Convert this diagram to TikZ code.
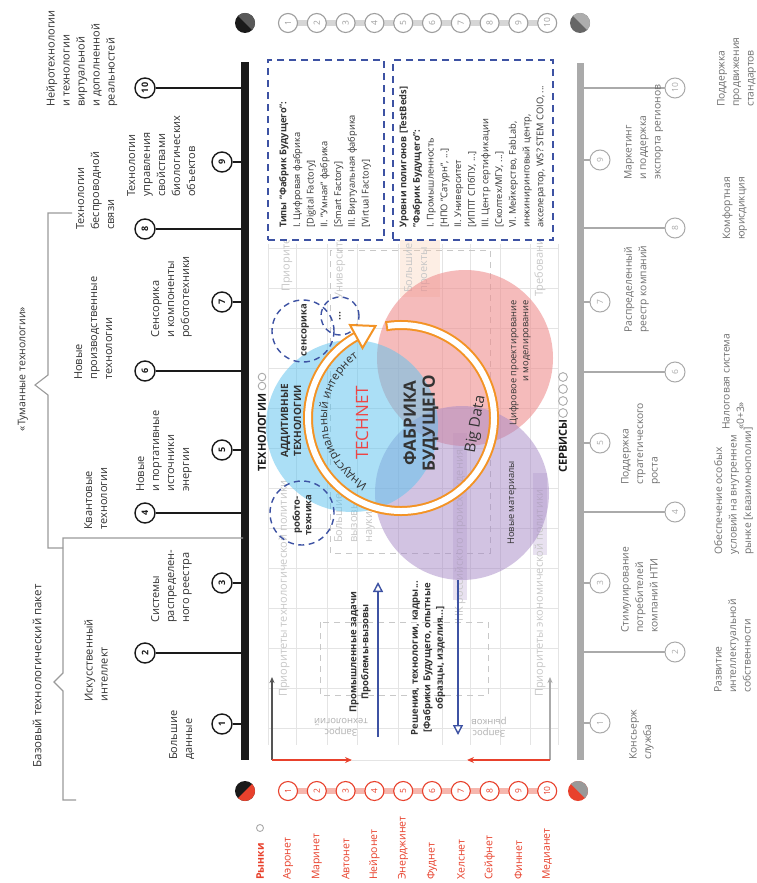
\documentclass[tikz,border=0pt]{standalone}
\usepackage{fontspec}
\setmainfont{Open Sans}
\usetikzlibrary{arrows.meta,calc,decorations.text}
\definecolor{techblk}{HTML}{1A1A1A}
\definecolor{servgray}{HTML}{AAAAAA}
\definecolor{lblgray}{HTML}{333333}
\definecolor{slblgray}{HTML}{707070}
\definecolor{mred}{HTML}{E8412C}
\definecolor{botbandc}{HTML}{F6B7AE}
\definecolor{topgray}{HTML}{9E9E9E}
\definecolor{topbandc}{HTML}{D6D6D6}
\definecolor{dblue}{HTML}{3D52A3}
\definecolor{fade}{HTML}{C8C8C8}
\definecolor{zapgray}{HTML}{B0B0B0}
\definecolor{gridc}{HTML}{E4E4E4}
\definecolor{cyanc}{HTML}{5EC3EE}
\definecolor{pinkc}{HTML}{EF8E8E}
\definecolor{purpc}{HTML}{A688C6}
\definecolor{ringc}{HTML}{F39325}
\definecolor{techred}{HTML}{EE4545}
\definecolor{brgray}{HTML}{9A9A9A}
\definecolor{peach}{HTML}{F9C9A6}
\definecolor{arrgray}{HTML}{555555}
\begin{document}
\begin{tikzpicture}[x=1pt,y=-1pt,
  techc/.style={circle,draw=techblk,line width=1.4pt,fill=white,minimum size=20pt,inner sep=0pt,font=\bfseries\fontsize{9}{9}\selectfont,text=techblk,rotate=90},
  servc/.style={circle,draw=servgray,line width=1pt,fill=white,minimum size=20pt,inner sep=0pt,font=\fontsize{8.5}{8.5}\selectfont,text=servgray,rotate=90},
  topc/.style={circle,draw=topgray,line width=1.1pt,fill=white,minimum size=19pt,inner sep=0pt,font=\fontsize{8.5}{8.5}\selectfont,text=topgray,rotate=90},
  botc/.style={circle,draw=mred,line width=1.1pt,fill=white,minimum size=19pt,inner sep=0pt,font=\fontsize{8.5}{8.5}\selectfont,text=mred,rotate=90},
  techlbl/.style={rotate=90,anchor=north west,align=left,inner sep=0pt,font=\fontsize{11}{15}\selectfont,text=lblgray},
  servlbl/.style={rotate=90,anchor=north west,align=left,inner sep=0pt,font=\fontsize{10.3}{14.5}\selectfont,text=slblgray},
  boxtxt/.style={rotate=90,anchor=north west,align=left,inner sep=0pt,font=\fontsize{9.3}{13.7}\selectfont,text=lblgray},
  fadetxt/.style={rotate=90,anchor=west,inner sep=0pt,font=\fontsize{11}{13}\selectfont,text=fade},
  fademl/.style={rotate=90,anchor=north west,align=left,inner sep=0pt,font=\fontsize{11}{15}\selectfont,text=fade},
  zapros/.style={rotate=180,align=center,inner sep=0pt,font=\fontsize{9.5}{11}\selectfont,text=zapgray},
  mktlbl/.style={rotate=90,anchor=west,inner sep=0pt,font=\fontsize{10.5}{12}\selectfont,text=mred},
  brk/.style={draw=brgray,line width=1.1pt},
  dbox/.style={rectangle,draw=dblue,fill=white,line width=1.4pt,dash pattern=on 7pt off 5pt,inner sep=0pt},
  dcirc/.style={circle,draw=dblue,line width=1.4pt,dash pattern=on 6pt off 4.5pt,inner sep=0pt},
  fadedash/.style={draw=fade,line width=0.9pt,dash pattern=on 6pt off 5pt},
  gridln/.style={draw=gridc,line width=0.7pt},
  vtxt/.style={rotate=90,inner sep=0pt}
]
\useasboundingbox (0,0) rectangle (757,883);
\fill[white] (0,0) rectangle (757,883);

% ---------- background grid ----------
\foreach \yy in {248,288,...,728} \draw[gridln] (268,\yy) -- (558,\yy);
\foreach \xx in {268,296,327,357,398,442,470,500,530,558} \draw[gridln] (\xx,244) -- (\xx,745);
\draw[fadedash] (330,250) rectangle (490,553);
\draw[fadedash] (320,622) rectangle (488,695);

\fill[purpc,opacity=0.25] (453,433) rectangle (467,600);
\fill[purpc,opacity=0.25] (533,473) rectangle (547,555);
\fill[peach,opacity=0.3] (400,237) rectangle (440,297);

\node[fadetxt] (f1) at (284,697) {Приоритеты технологической политики};
\node[fadetxt] (f2) at (540,697) {Приоритеты экономической политики};
\node[fadetxt] (f3) at (287,292) {Приоритеты};
\node[fadetxt] (f4) at (340,300) {Университет};
\node[fadetxt] (f5) at (540,297) {Требования};
\node[fadetxt] (f6) at (460,622) {НК российского происхождения};
\node[fademl] (f7) at (334,543) {Большие\\вызовы\\науки};
\node[fademl] (f8) at (404,293) {Большие\\проекты};
\node[zapros] (z1) at (341,727) {Запрос\\технологий};
\node[zapros] (z2) at (489,727) {Запрос\\рынков};

% ---------- Venn circles ----------
\fill[pinkc,opacity=0.6] (465,358) circle[radius=88pt];
\fill[purpc,opacity=0.5] (462,493) circle[radius=87pt];
\fill[cyanc,opacity=0.52] (352,426) circle[radius=86pt];

\node[dcirc,minimum size=64pt] (robo) at (302,513) {};
\node[dcirc,minimum size=62pt] (sens) at (303,331) {};
\node[dcirc,minimum size=38pt] (dots) at (340,316) {};

% ---------- dashed boxes ----------
\node[dbox,minimum width=116pt,minimum height=180pt] (box1) at (326,150) {};
\node[dbox,minimum width=160pt,minimum height=180pt] (box2) at (473,150) {};
\node[boxtxt] (box1txt) at (279,228) {\textbf{Типы "Фабрик Будущего":}\\I. Цифровая фабрика\\{[}Digital Factory{]}\\II. "Умная" фабрика\\{[}Smart Factory{]}\\III. Виртуальная фабрика\\{[}Virtual Factory{]}};
\node[boxtxt] (box2txt) at (399,228) {\textbf{Уровни полигонов [TestBeds]}\\\textbf{"Фабрик Будущего":}\\I. Промышленность\\{[}НПО "Сатурн", ...{]}\\II. Университет\\{[}ИППТ СПбПУ, ...{]}\\III. Центр сертификации\\{[}Сколтех/МГУ, ...{]}\\VI. Мейкерство, FabLab,\\инжиниринговый центр,\\акселератор, WS? STEM COIO, ...};

% ---------- bars ----------
\node[fill=techblk,minimum width=8pt,minimum height=698pt,inner sep=0pt] (tbar) at (245,411) {};
\node[fill=servgray,minimum width=7pt,minimum height=697pt,inner sep=0pt] (sbar) at (580,411.5) {};

\foreach \i/\xx/\yy in {1/222/724,2/145/653,3/222/583,4/145/513,5/222/450,6/145/371,7/222/302,8/145/229,9/222/162,10/145/88} {
  \node[techc] (t\i) at (\xx,\yy) {\i};
  \draw[techblk,line width=1.3pt] (t\i) -- (t\i -| tbar);
}
\foreach \i/\xx/\yy in {1/600/723,2/675/652,3/600/583,4/675/512,5/600/443,6/675/372,7/600/302,8/675/228,9/600/160,10/675/88} {
  \node[servc] (s\i) at (\xx,\yy) {\i};
  \draw[servgray,line width=1.2pt] (s\i) -- (s\i -| sbar);
}

% ---------- technology labels ----------
\node[techlbl] (tl10) at (46,107) {Нейротехнологии\\и технологии\\виртуальной\\и дополненной\\реальностей};
\node[techlbl] (tl9) at (127,197) {Технологии\\управления\\свойствами\\биологических\\объектов};
\node[techlbl] (tl8) at (76,230) {Технологии\\беспроводной\\связи};
\node[techlbl] (tl7) at (151,338) {Сенсорика\\и компоненты\\робототехники};
\node[techlbl] (tl6) at (74,380) {Новые\\производственные\\технологии};
\node[techlbl] (tl5) at (136,492) {Новые\\и портативные\\источники\\энергии};
\node[techlbl] (tl4) at (84,530) {Квантовые\\технологии};
\node[techlbl] (tl3) at (151,623) {Системы\\распределен-\\ного реестра};
\node[techlbl] (tl2) at (84,702) {Искусственный\\интеллект};
\node[techlbl] (tl1) at (169,760) {Большие\\данные};

% ---------- service labels ----------
\node[servlbl] (sl10) at (717,107) {Поддержка\\продвижения\\стандартов};
\node[servlbl] (sl9) at (624,180) {Маркетинг\\и поддержка\\экспорта регионов};
\node[servlbl] (sl8) at (722,240) {Комфортная\\юрисдикция};
\node[servlbl] (sl7) at (624,333) {Распределенный\\реестр компаний};
\node[servlbl] (sl6) at (722,430) {Налоговая система\\«0+3»};
\node[servlbl] (sl5) at (621,485) {Поддержка\\стратегического\\роста};
\node[servlbl] (sl4) at (714,555) {Обеспечение особых\\условий на внутреннем\\рынке [квазимонополии]};
\node[servlbl] (sl3) at (621,633) {Стимулирование\\потребителей\\компаний НТИ};
\node[servlbl] (sl2) at (714,693) {Развитие\\интеллектуальной\\собственности};
\node[servlbl] (sl1) at (629,760) {Консьерж\\служба};

% ---------- brackets ----------
\draw[brk] (72,213) -- (48,213) -- (48,375) -- (35,385) -- (48,395) -- (48,548) -- (63,548);
\draw[brk] (243,538) -- (63,538) -- (63,673) -- (54,682) -- (63,691) -- (63,800) -- (76,800);
\node[vtxt,font=\fontsize{10.5}{12}\selectfont,text=lblgray] (tum) at (23,369) {«Туманные технологии»};
\node[vtxt,font=\fontsize{11.5}{12}\selectfont,text=lblgray] (baz) at (37,676) {Базовый технологический пакет};

% ---------- top and bottom rows ----------
\draw[line width=6pt,topbandc] (288,23) -- (547.2,23);
\draw[line width=6pt,botbandc] (288,791) -- (547.2,791);
\foreach \i in {1,...,10} {
  \node[topc] (tp\i) at ({288+(\i-1)*28.8},23) {\i};
  \node[botc] (bt\i) at ({288+(\i-1)*28.8},791) {\i};
}
\foreach \i/\nm in {1/Аэронет,2/Маринет,3/Автонет,4/Нейронет,5/Энерджинет,6/Фуднет,7/Хелснет,8/Сейфнет,9/Финнет,10/Медианет} {
  \node[mktlbl] (m\i) at ({288+(\i-1)*28.8},880) {\nm};
}
\node[mktlbl,font=\bfseries\fontsize{10.5}{12}\selectfont] (mk0) at (260,880) {Рынки};
\draw[servgray,line width=0.9pt] (260,828) circle[radius=3.5pt];

% corner discs
\fill[techblk] (245,23) circle[radius=10pt];
\fill[black!65] ([shift={(135:10pt)}]245,23) arc[start angle=135,end angle=-45,radius=10pt] -- cycle;
\fill[black!60] (580,23) circle[radius=10pt];
\fill[black!32] ([shift={(135:10pt)}]580,23) arc[start angle=135,end angle=-45,radius=10pt] -- cycle;
\fill[techblk] (245,791) circle[radius=10pt];
\fill[mred] ([shift={(45:10pt)}]245,791) arc[start angle=45,end angle=-135,radius=10pt] -- cycle;
\fill[mred] (578,791) circle[radius=10pt];
\fill[black!40] ([shift={(135:10pt)}]578,791) arc[start angle=135,end angle=-45,radius=10pt] -- cycle;

% ---------- headers ----------
\node[rotate=90,anchor=west,inner sep=0pt,font=\bfseries\fontsize{11}{12}\selectfont,text=techblk] (hdtech) at (262,472) {ТЕХНОЛОГИИ};
\foreach \yy in {386,377} \draw[servgray,line width=0.9pt] (262,\yy) circle[radius=3.8pt];
\node[rotate=90,anchor=west,inner sep=0pt,font=\bfseries\fontsize{11}{12}\selectfont,text=techblk] (hdserv) at (563,473) {СЕРВИСЫ};
\foreach \yy in {413,401,389,377} \draw[servgray,line width=0.9pt] (563,\yy) circle[radius=4.4pt];

% ---------- bottom arrows ----------
\coordinate (la) at (272,760); \coordinate (lt) at (272,677); \coordinate (lr) at (352,760);
\coordinate (ra) at (550,760); \coordinate (rt) at (550,677); \coordinate (rl) at (467,760);
\draw[gridc,line width=1pt] (lr) -- (rl);
\draw[arrgray,line width=1.1pt,-{Stealth[length=6pt,width=5pt]}] (la) -- (lt);
\draw[mred,line width=1.3pt,-{Stealth[length=7pt,width=6pt]}] (la) -- (lr);
\draw[servgray,line width=1.1pt,-{Stealth[length=6pt,width=5pt]}] (ra) -- (rt);
\draw[mred,line width=1.3pt,-{Stealth[length=7pt,width=6pt]}] (ra) -- (rl);

\coordinate (ba1) at (378,737); \coordinate (ba2) at (378,582);
\coordinate (bb1) at (458,580); \coordinate (bb2) at (458,735);
\draw[dblue,line width=1.4pt,-{Triangle[length=10pt,width=10pt,fill=white]}] (ba1) -- (ba2);
\draw[dblue,line width=1.4pt,-{Triangle[length=10pt,width=10pt,fill=white]}] (bb1) -- (bb2);
\node[vtxt,align=center,font=\bfseries\fontsize{9.5}{12}\selectfont,text=lblgray] (prom) at (360,652) {Промышленные задачи\\Проблемы-вызовы};
\node[vtxt,align=center,font=\bfseries\fontsize{9.5}{12.5}\selectfont,text=lblgray] (resh) at (428,658) {Решения, технологии, кадры...\\{[}Фабрики Будущего, опытные\\образцы, изделия...{]}};

% ---------- Venn labels ----------
\node[vtxt,align=center,font=\bfseries\fontsize{10}{13}\selectfont,text=lblgray] (addt) at (291,421) {АДДИТИВНЫЕ\\ТЕХНОЛОГИИ};
\node[vtxt,font=\bfseries\fontsize{9.5}{11}\selectfont,text=lblgray] (senst) at (305,330) {сенсорика};
\node[vtxt,align=center,font=\bfseries\fontsize{9.5}{11.5}\selectfont,text=lblgray] (robot) at (302,515) {робото-\\техника};
\node[vtxt,font=\bfseries\fontsize{10}{11}\selectfont,text=lblgray] (dotst) at (340,316) {...};
\node[vtxt,font=\fontsize{17}{17}\selectfont,text=techred] (technet) at (362,423) {TECHNET};
\node[vtxt,align=center,font=\bfseries\fontsize{17}{19}\selectfont,text=lblgray] (fab) at (421,423) {ФАБРИКА\\БУДУЩЕГО};
\node[rotate=80,inner sep=0pt,font=\fontsize{15}{15}\selectfont,text=lblgray] (bigd) at (476,424) {Big Data};
\node[rotate=90,anchor=north east,align=right,inner sep=0pt,font=\fontsize{9.3}{12}\selectfont,text=lblgray] (cifr) at (509,300) {Цифровое проектирование\\и моделирование};
\node[vtxt,font=\fontsize{9.3}{12}\selectfont,text=lblgray] (novm) at (512,503) {Новые материалы};

% ---------- orange ring ----------
\coordinate (ring) at (401,418);
\draw[ringc,line width=2pt,double=white,double distance=6pt] ([shift={(98.8:93pt)}]ring) arc[start angle=98.8,end angle=-241.2,radius=93pt];
\draw[ringc,line width=2pt] ($(ring)+(98.8:88pt)$) -- ($(ring)+(98.8:98pt)$);
\draw[ringc,line width=2pt,fill=white,line join=miter] (350,325) -- (375.5,326) -- (362.5,348) -- cycle;
\path[decorate,decoration={text along path,text align=center,text color=lblgray,text={|\fontsize{11.5}{11.5}\selectfont|Индустриальный интернет}}] ([shift={(248:74pt)}]ring) arc[start angle=248,end angle=120,radius=74pt];

\end{tikzpicture}
\end{document}
